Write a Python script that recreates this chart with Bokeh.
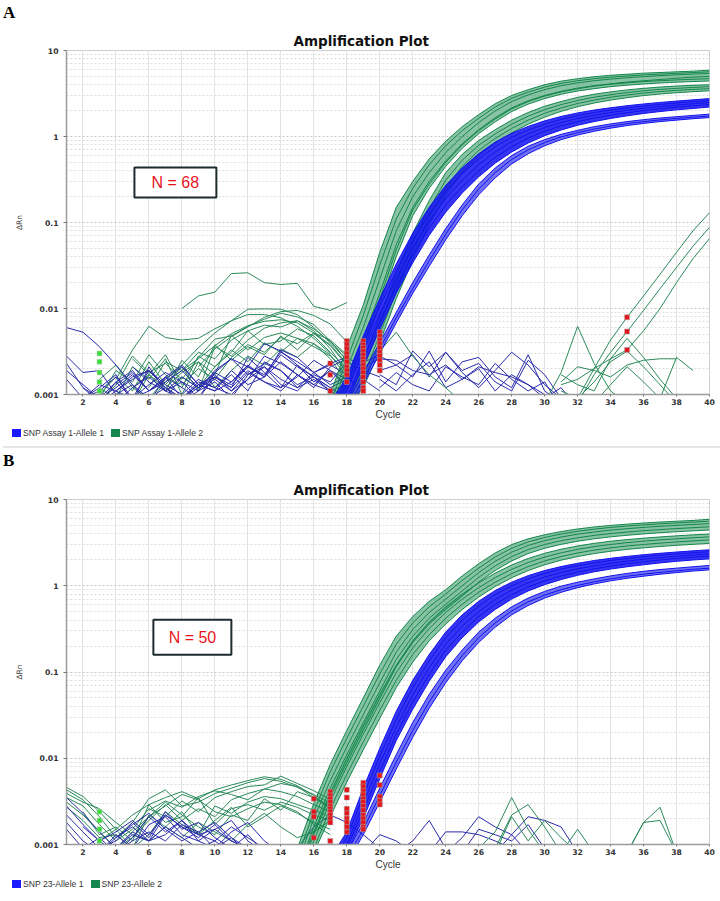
import numpy as np
from bokeh.plotting import figure
from bokeh.models import (Range1d, FixedTicker, CustomJSTickFormatter, Label, Title,
                          BoxAnnotation, Div)
from bokeh.layouts import column
from bokeh.embed import file_html
from bokeh.resources import INLINE

# ---------------------------------------------------------------- data
x_tick_values = list(range(2, 41, 2))
y_tick_values = [0.001, 0.01, 0.1, 1, 10]
plot_title = "Amplification Plot"
panel_letters = ["A", "B"]
n_labels = ["N = 68", "N = 50"]
legend_a = ["SNP Assay 1-Allele 1", "SNP Assay 1-Allele 2"]
legend_b = ["SNP 23-Allele 1", "SNP 23-Allele 2"]

# ----- Panel A amplification curves (delta Rn), cycles 16..40
amp_a_start = 16
a_green_top = [
    [0.0004, 0.001, 0.0035, 0.011, 0.045, 0.15, 0.30, 0.55, 0.88, 1.3, 1.8, 2.4, 3.0, 3.5, 4.0, 4.4, 4.7, 4.95, 5.15, 5.3, 5.45, 5.55, 5.65, 5.75, 5.9],
    [0.0003, 0.0008, 0.0025, 0.0083, 0.032, 0.11, 0.25, 0.47, 0.78, 1.17, 1.63, 2.2, 2.78, 3.28, 3.75, 4.15, 4.45, 4.7, 4.9, 5.06, 5.2, 5.32, 5.43, 5.54, 5.65],
    [0.0003, 0.0007, 0.002, 0.006, 0.022, 0.08, 0.2, 0.38, 0.65, 1.0, 1.45, 1.98, 2.55, 3.05, 3.5, 3.9, 4.2, 4.45, 4.65, 4.82, 4.97, 5.1, 5.22, 5.32, 5.4],
    [0.0002, 0.0006, 0.0015, 0.0045, 0.015, 0.055, 0.15, 0.3, 0.52, 0.82, 1.2, 1.65, 2.15, 2.6, 3.0, 3.35, 3.65, 3.9, 4.1, 4.3, 4.45, 4.6, 4.75, 4.9, 5.0],
    [0.0002, 0.0005, 0.0013, 0.004, 0.013, 0.048, 0.14, 0.28, 0.5, 0.8, 1.17, 1.6, 2.1, 2.55, 2.95, 3.3, 3.6, 3.85, 4.05, 4.2, 4.35, 4.45, 4.55, 4.63, 4.7],
    [0.0002, 0.0004, 0.0011, 0.0033, 0.011, 0.04, 0.12, 0.25, 0.45, 0.73, 1.08, 1.48, 1.95, 2.38, 2.76, 3.1, 3.38, 3.6, 3.8, 3.95, 4.08, 4.19, 4.28, 4.35, 4.42],
]
a_green_low = [
    [0.0002, 0.0003, 0.0008, 0.0025, 0.008, 0.026, 0.075, 0.18, 0.38, 0.62, 0.9, 1.2, 1.55, 1.9, 2.25, 2.55, 2.85, 3.1, 3.3, 3.48, 3.63, 3.76, 3.86, 3.94, 4.0],
    [0.0002, 0.0003, 0.0007, 0.002, 0.0062, 0.02, 0.058, 0.145, 0.31, 0.53, 0.79, 1.07, 1.39, 1.72, 2.05, 2.35, 2.62, 2.86, 3.06, 3.24, 3.4, 3.53, 3.63, 3.72, 3.8],
    [0.0002, 0.0003, 0.0006, 0.0016, 0.005, 0.016, 0.046, 0.117, 0.25, 0.45, 0.69, 0.95, 1.24, 1.55, 1.86, 2.15, 2.42, 2.65, 2.86, 3.04, 3.2, 3.33, 3.44, 3.53, 3.6],
    [0.0002, 0.0003, 0.0005, 0.0013, 0.004, 0.013, 0.037, 0.095, 0.205, 0.38, 0.6, 0.84, 1.1, 1.39, 1.68, 1.96, 2.22, 2.45, 2.65, 2.83, 2.99, 3.12, 3.23, 3.32, 3.4],
]
a_blue_main = [
    [0.0004, 0.0008, 0.0016, 0.0048, 0.013, 0.033, 0.075, 0.15, 0.27, 0.43, 0.63, 0.86, 1.09, 1.31, 1.52, 1.71, 1.88, 2.03, 2.16, 2.28, 2.39, 2.49, 2.58, 2.67, 2.76],
    [0.0003, 0.0007, 0.0013, 0.0039, 0.0105, 0.027, 0.062, 0.125, 0.23, 0.37, 0.55, 0.76, 0.98, 1.19, 1.39, 1.58, 1.75, 1.9, 2.03, 2.15, 2.26, 2.36, 2.45, 2.54, 2.62],
    [0.0003, 0.0006, 0.0011, 0.0032, 0.0086, 0.022, 0.051, 0.104, 0.19, 0.31, 0.47, 0.66, 0.87, 1.07, 1.27, 1.45, 1.62, 1.77, 1.9, 2.02, 2.13, 2.23, 2.32, 2.4, 2.48],
    [0.0003, 0.0005, 0.0009, 0.0026, 0.007, 0.018, 0.042, 0.086, 0.16, 0.26, 0.4, 0.57, 0.76, 0.96, 1.15, 1.33, 1.49, 1.64, 1.77, 1.89, 2.0, 2.1, 2.19, 2.27, 2.35],
    [0.0002, 0.0004, 0.0008, 0.0021, 0.0057, 0.015, 0.034, 0.071, 0.132, 0.22, 0.34, 0.49, 0.66, 0.84, 1.02, 1.19, 1.35, 1.49, 1.62, 1.74, 1.85, 1.95, 2.04, 2.12, 2.2],
]
a_blue_low = [
    [0.0003, 0.0005, 0.0008, 0.0018, 0.004, 0.009, 0.02, 0.042, 0.085, 0.16, 0.28, 0.43, 0.6, 0.77, 0.92, 1.06, 1.18, 1.3, 1.4, 1.49, 1.57, 1.64, 1.7, 1.76, 1.82],
    [0.0003, 0.0004, 0.0007, 0.0015, 0.0034, 0.0078, 0.017, 0.036, 0.073, 0.14, 0.245, 0.38, 0.54, 0.7, 0.85, 0.99, 1.11, 1.22, 1.32, 1.41, 1.49, 1.56, 1.62, 1.68, 1.73],
    [0.0002, 0.0004, 0.0006, 0.0013, 0.003, 0.0068, 0.015, 0.031, 0.063, 0.12, 0.21, 0.33, 0.48, 0.63, 0.78, 0.92, 1.04, 1.15, 1.25, 1.34, 1.42, 1.49, 1.55, 1.61, 1.66],
]
# late-rising allele-2 wells in panel A
a_late_start = [32, 32, 31]
a_late = [
    [0.0009, 0.002, 0.0043, 0.0079, 0.014, 0.025, 0.045, 0.08, 0.13],
    [0.0008, 0.0017, 0.0031, 0.0054, 0.0095, 0.017, 0.03, 0.053, 0.088],
    [0.0013, 0.0015, 0.002, 0.0026, 0.0033, 0.0055, 0.01, 0.02, 0.038, 0.065],
]
# baseline noise, panel A
a_noise_green_start = [8, 4, 5, 3, 3, 3, 3, 4, 5, 6, 7, 9, 6, 3]
a_noise_green = [
    [0.01, 0.014, 0.0155, 0.0255, 0.026, 0.02, 0.019, 0.0196, 0.0106, 0.0095, 0.0117],
    [0.0015, 0.0033, 0.0062, 0.0046, 0.0043, 0.0045, 0.0058, 0.0072, 0.0085, 0.0085, 0.0078, 0.0062, 0.0045, 0.003],
    [0.0012, 0.0009, 0.0015, 0.0022, 0.0035, 0.0052, 0.0072, 0.0098, 0.0099, 0.0098, 0.0085, 0.006, 0.004, 0.0025],
    [0.0008, 0.0013, 0.0028, 0.0018, 0.0023, 0.0015, 0.0027, 0.0044, 0.0048, 0.0062, 0.0075, 0.0088, 0.008, 0.0065, 0.0042, 0.0025],
    [0.001, 0.0016, 0.0011, 0.0024, 0.0013, 0.0021, 0.0011, 0.0036, 0.0028, 0.0043, 0.0059, 0.0068, 0.0072, 0.0055, 0.0034, 0.0018],
    [0.0012, 0.0009, 0.0021, 0.0015, 0.0026, 0.001, 0.0024, 0.0017, 0.0049, 0.0033, 0.0046, 0.0052, 0.0045, 0.0039, 0.0026, 0.0014],
    [0.0009, 0.0019, 0.0014, 0.0029, 0.0017, 0.0012, 0.0028, 0.0021, 0.0031, 0.0055, 0.0038, 0.0042, 0.0058, 0.0048, 0.0031, 0.002],
    [0.0011, 0.0008, 0.0017, 0.0011, 0.0025, 0.0016, 0.0038, 0.0025, 0.0036, 0.0029, 0.0048, 0.0033, 0.0051, 0.0037, 0.0022],
    [0.0026, 0.0017, 0.0012, 0.0018, 0.0024, 0.0012, 0.0019, 0.0028, 0.0022, 0.0034, 0.0027, 0.0039, 0.0029, 0.0016],
    [0.0008, 0.0014, 0.0019, 0.0026, 0.0037, 0.0051, 0.0063, 0.0071, 0.0074, 0.0068, 0.0052, 0.0038, 0.0023],
    [0.0009, 0.0016, 0.0012, 0.0021, 0.0033, 0.0024, 0.004, 0.0031, 0.0045, 0.0036, 0.0028, 0.0019],
    [0.0021, 0.0034, 0.0047, 0.0061, 0.0079, 0.0092, 0.0095, 0.0083, 0.0066, 0.0041],
    [0.0012, 0.0024, 0.0019, 0.0031, 0.0026, 0.0043, 0.0055, 0.0064, 0.0061, 0.0072, 0.0058, 0.0041, 0.0028],
    [0.0015, 0.0022, 0.0012, 0.0017, 0.0029, 0.0013, 0.002, 0.0015, 0.0027, 0.0038, 0.0031, 0.0046, 0.0039, 0.0052, 0.0043, 0.0029],
]
a_noise_blue_start = [1, 1, 1, 2, 3, 4, 1, 2, 2, 3, 1, 4, 5]
a_noise_blue = [
    [0.006, 0.0053, 0.0036, 0.0022, 0.0013, 0.0009, 0.0012, 0.0008, 0.0011, 0.0014, 0.0009, 0.0017, 0.0023, 0.0019, 0.0012, 0.0015, 0.0011, 0.0009],
    [0.0028, 0.0018, 0.0019, 0.001, 0.0013, 0.0008, 0.0016, 0.0012, 0.0009, 0.0018, 0.0026, 0.0021, 0.0039, 0.0032, 0.0022, 0.0014, 0.0019, 0.0012],
    [0.0023, 0.0012, 0.0008, 0.0014, 0.0009, 0.0011, 0.0016, 0.0009, 0.0013, 0.0011, 0.0019, 0.0013, 0.0016, 0.0024, 0.0017, 0.0012, 0.0021, 0.0026, 0.0015, 0.0011],
    [0.0009, 0.0012, 0.0017, 0.0008, 0.0021, 0.0011, 0.0014, 0.0009, 0.0016, 0.0012, 0.0027, 0.0018, 0.0012, 0.0016, 0.0025, 0.0019, 0.0013],
    [0.0008, 0.0011, 0.0015, 0.0019, 0.0012, 0.0009, 0.0013, 0.0011, 0.0014, 0.0021, 0.0016, 0.0033, 0.0027, 0.0018, 0.0023, 0.0027, 0.0021],
    [0.0011, 0.0009, 0.0019, 0.0013, 0.001, 0.0015, 0.0012, 0.0017, 0.0011, 0.0024, 0.0019, 0.0013, 0.0016, 0.0012, 0.0009],
    [0.0015, 0.0009, 0.0011, 0.0008, 0.0012, 0.0016, 0.0011, 0.0009, 0.0014, 0.0012, 0.001, 0.0015, 0.0021, 0.0013, 0.0011, 0.0017, 0.0014, 0.0024, 0.0019, 0.0016],
    [0.0009, 0.0013, 0.0011, 0.0016, 0.0019, 0.0012, 0.0009, 0.0012, 0.0015, 0.0011, 0.0018, 0.0014, 0.0012, 0.0022, 0.0016, 0.0011, 0.0013],
    [0.0012, 0.0009, 0.0014, 0.0019, 0.0011, 0.0016, 0.0022, 0.0013, 0.0017, 0.0011, 0.0015, 0.0028, 0.0023, 0.0017, 0.0013, 0.0011],
    [0.0011, 0.0016, 0.0009, 0.0013, 0.0018, 0.0014, 0.0011, 0.0019, 0.0026, 0.0017, 0.0021, 0.0015, 0.0012, 0.0018, 0.0022, 0.0017],
    [0.0019, 0.0013, 0.0009, 0.0012, 0.0017, 0.0011, 0.0014, 0.0019, 0.0012, 0.0016, 0.0013, 0.0021, 0.0017, 0.0031, 0.0024, 0.0018, 0.0013, 0.0016, 0.0011],
    [0.0013, 0.0018, 0.0011, 0.0015, 0.0021, 0.0013, 0.0016, 0.0012, 0.0019, 0.0014, 0.0011, 0.0017, 0.0013, 0.0019, 0.0015],
    [0.0021, 0.0014, 0.0011, 0.0016, 0.0012, 0.0018, 0.0014, 0.0022, 0.0016, 0.0029, 0.0021, 0.0016, 0.0012, 0.0015],
]
a_noise_blue_late_start = [19, 19, 20, 20, 20, 20]
a_noise_blue_late = [
    [0.0021, 0.0026, 0.0025, 0.0019, 0.0017, 0.0022, 0.0015, 0.0021, 0.0018, 0.0016, 0.0013, 0.001, 0.0008],
    [0.0024, 0.0028, 0.0022, 0.0029, 0.0016, 0.0031, 0.0019, 0.0023, 0.0014, 0.0011, 0.0025, 0.0017, 0.0009],
    [0.0017, 0.0013, 0.0032, 0.0021, 0.0031, 0.0018, 0.0012, 0.0019, 0.0031, 0.0022, 0.0013, 0.0009],
    [0.0019, 0.0022, 0.0016, 0.0032, 0.0014, 0.0024, 0.0027, 0.0016, 0.0012, 0.0029, 0.0011, 0.0008],
    [0.0012, 0.0018, 0.0013, 0.0011, 0.0021, 0.0016, 0.0013, 0.0023, 0.0015, 0.0011, 0.0014, 0.0007],
    [0.0015, 0.0011, 0.0017, 0.0024, 0.0012, 0.0015, 0.002, 0.0011, 0.0017, 0.0013, 0.0009, 0.0012, 0.0007],
]
a_noise_green_late_start = [19, 30, 31, 31, 33, 31]
a_noise_green_late = [
    [0.0012, 0.0032, 0.0053, 0.0028, 0.0017, 0.0012, 0.0008],
    [0.0008, 0.0018, 0.0062, 0.0023, 0.0011, 0.0008],
    [0.0017, 0.0013, 0.0011, 0.0026, 0.0045, 0.0027, 0.0015, 0.0009],
    [0.0014, 0.0021, 0.0019, 0.0016, 0.0022, 0.0025, 0.0026, 0.0026],
    [0.0008, 0.0013, 0.0021, 0.0014, 0.0009, 0.0027, 0.0019],
    [0.0011, 0.0009, 0.0014, 0.0024, 0.0032, 0.0021, 0.0013, 0.0008],
]
# threshold-cycle markers, panel A
a_ct_cycle = [17, 17, 17,
              18, 18, 18, 18, 18, 18, 18, 18, 18, 18,
              19, 19, 19, 19, 19, 19, 19, 19, 19, 19, 19, 19, 19, 19,
              20, 20, 20, 20, 20, 20, 20, 20, 20, 20,
              35, 35, 35]
a_ct_value = [0.0023, 0.0017, 0.0011,
              0.0042, 0.0038, 0.0034, 0.003, 0.0027, 0.0024, 0.0021, 0.0019, 0.0017, 0.0014,
              0.0042, 0.0038, 0.0035, 0.0032, 0.0029, 0.0026, 0.0024, 0.0022, 0.002, 0.0018, 0.0016, 0.0014, 0.0012, 0.0011,
              0.0053, 0.0048, 0.0043, 0.0039, 0.0035, 0.0031, 0.0028, 0.0025, 0.0022, 0.0019,
              0.0079, 0.0054, 0.0033]
a_base_cycle = [3, 3, 3, 3, 3]
a_base_value = [0.003, 0.0024, 0.0018, 0.0014, 0.0011]

# ----- Panel B amplification curves, cycles 15..40
amp_b_start = 15
b_green_top = [
    [0.0009, 0.003, 0.0085, 0.021, 0.05, 0.12, 0.26, 0.44, 0.66, 0.9, 1.3, 1.8, 2.4, 3.0, 3.5, 3.9, 4.25, 4.55, 4.8, 5.0, 5.18, 5.34, 5.48, 5.6, 5.72, 5.9],
    [0.0007, 0.0024, 0.007, 0.017, 0.04, 0.095, 0.21, 0.37, 0.57, 0.8, 1.15, 1.6, 2.15, 2.72, 3.22, 3.63, 3.98, 4.28, 4.53, 4.74, 4.92, 5.08, 5.22, 5.35, 5.47, 5.6],
    [0.0006, 0.002, 0.0055, 0.0135, 0.032, 0.075, 0.17, 0.31, 0.49, 0.7, 1.0, 1.42, 1.92, 2.45, 2.93, 3.33, 3.67, 3.96, 4.2, 4.41, 4.59, 4.75, 4.89, 5.02, 5.14, 5.26],
    [0.0005, 0.0016, 0.0045, 0.011, 0.026, 0.06, 0.14, 0.26, 0.42, 0.61, 0.87, 1.25, 1.7, 2.18, 2.63, 3.01, 3.33, 3.6, 3.83, 4.03, 4.2, 4.35, 4.48, 4.6, 4.71, 4.82],
    [0.0004, 0.0013, 0.0036, 0.0088, 0.021, 0.049, 0.115, 0.22, 0.36, 0.53, 0.76, 1.1, 1.5, 1.94, 2.36, 2.72, 3.02, 3.28, 3.5, 3.69, 3.85, 3.99, 4.12, 4.23, 4.33, 4.43],
]
b_green_low = [
    [0.0005, 0.0014, 0.004, 0.01, 0.024, 0.055, 0.12, 0.23, 0.38, 0.57, 0.8, 1.08, 1.4, 1.74, 2.07, 2.38, 2.65, 2.89, 3.1, 3.28, 3.43, 3.56, 3.68, 3.79, 3.89, 3.98],
    [0.0004, 0.0011, 0.0032, 0.008, 0.019, 0.044, 0.098, 0.19, 0.32, 0.49, 0.7, 0.95, 1.24, 1.55, 1.86, 2.15, 2.41, 2.64, 2.84, 3.01, 3.16, 3.29, 3.4, 3.5, 3.6, 3.69],
    [0.0003, 0.0009, 0.0026, 0.0065, 0.0155, 0.036, 0.08, 0.16, 0.27, 0.42, 0.61, 0.84, 1.1, 1.38, 1.67, 1.94, 2.18, 2.4, 2.59, 2.75, 2.89, 3.01, 3.12, 3.22, 3.31, 3.4],
    [0.0003, 0.0008, 0.0021, 0.0053, 0.0125, 0.029, 0.066, 0.13, 0.23, 0.36, 0.53, 0.74, 0.98, 1.24, 1.5, 1.75, 1.98, 2.18, 2.36, 2.51, 2.64, 2.75, 2.85, 2.94, 3.02, 3.1],
]
b_blue_main = [
    [0.0003, 0.0005, 0.0007, 0.0014, 0.0045, 0.013, 0.035, 0.08, 0.16, 0.29, 0.46, 0.66, 0.88, 1.1, 1.31, 1.5, 1.67, 1.82, 1.96, 2.08, 2.19, 2.29, 2.38, 2.46, 2.54, 2.61],
    [0.0003, 0.0004, 0.0006, 0.0012, 0.0037, 0.0105, 0.028, 0.066, 0.135, 0.25, 0.4, 0.58, 0.79, 1.0, 1.2, 1.39, 1.56, 1.71, 1.84, 1.96, 2.07, 2.17, 2.26, 2.34, 2.41, 2.48],
    [0.0002, 0.0004, 0.0006, 0.001, 0.003, 0.0086, 0.023, 0.054, 0.112, 0.21, 0.34, 0.5, 0.69, 0.89, 1.08, 1.26, 1.42, 1.57, 1.7, 1.82, 1.93, 2.03, 2.12, 2.2, 2.27, 2.34],
    [0.0002, 0.0003, 0.0005, 0.0009, 0.0025, 0.007, 0.019, 0.045, 0.094, 0.18, 0.29, 0.44, 0.61, 0.79, 0.97, 1.14, 1.3, 1.44, 1.57, 1.69, 1.8, 1.9, 1.99, 2.07, 2.14, 2.21],
    [0.0002, 0.0003, 0.0005, 0.0008, 0.002, 0.0058, 0.016, 0.037, 0.078, 0.15, 0.25, 0.38, 0.53, 0.7, 0.87, 1.03, 1.18, 1.32, 1.45, 1.56, 1.66, 1.75, 1.84, 1.92, 1.99, 2.05],
]
b_blue_low = [
    [0.0002, 0.0003, 0.0005, 0.0008, 0.0018, 0.0045, 0.011, 0.026, 0.055, 0.105, 0.18, 0.29, 0.42, 0.57, 0.72, 0.86, 0.99, 1.1, 1.2, 1.3, 1.39, 1.47, 1.54, 1.6, 1.66, 1.72],
    [0.0002, 0.0003, 0.0004, 0.0007, 0.0015, 0.0037, 0.009, 0.021, 0.045, 0.088, 0.155, 0.25, 0.37, 0.51, 0.65, 0.78, 0.9, 1.01, 1.11, 1.2, 1.29, 1.36, 1.43, 1.49, 1.55, 1.6],
    [0.0002, 0.0003, 0.0004, 0.0006, 0.0013, 0.0031, 0.0075, 0.0175, 0.038, 0.075, 0.135, 0.22, 0.33, 0.46, 0.59, 0.72, 0.84, 0.95, 1.05, 1.14, 1.22, 1.29, 1.36, 1.42, 1.48, 1.53],
]
b_noise_green_start = [1, 1, 1, 1, 2, 3, 4, 1, 5, 1, 6]
b_noise_green = [
    [0.0043, 0.0033, 0.0021, 0.0012, 0.0018, 0.0034, 0.0043, 0.0028, 0.0031, 0.0039, 0.0045, 0.0052, 0.0058, 0.0054, 0.0046, 0.0038, 0.003],
    [0.0035, 0.0028, 0.0017, 0.0011, 0.0015, 0.0026, 0.0021, 0.0032, 0.0024, 0.0035, 0.0041, 0.0047, 0.0049, 0.0062, 0.0051, 0.0042, 0.0033],
    [0.0031, 0.0022, 0.0014, 0.0009, 0.0012, 0.0019, 0.0029, 0.0019, 0.0026, 0.0021, 0.0033, 0.0039, 0.0044, 0.0041, 0.0036, 0.0029, 0.0024],
    [0.0027, 0.0019, 0.0012, 0.0013, 0.0009, 0.0022, 0.0016, 0.0024, 0.0013, 0.0028, 0.0023, 0.0031, 0.0036, 0.0034, 0.0029, 0.0025, 0.0021],
    [0.0024, 0.0013, 0.0016, 0.0011, 0.0029, 0.0018, 0.0021, 0.0035, 0.0017, 0.0026, 0.0029, 0.0025, 0.0031, 0.0027, 0.0022, 0.0019],
    [0.0011, 0.0015, 0.0009, 0.0013, 0.0024, 0.0017, 0.0013, 0.0019, 0.0027, 0.0016, 0.0021, 0.0028, 0.0023, 0.0018, 0.0015],
    [0.0009, 0.0014, 0.0021, 0.0031, 0.0022, 0.0016, 0.0013, 0.0022, 0.0019, 0.0034, 0.0025, 0.0041, 0.0035, 0.0026],
    [0.0039, 0.0031, 0.0026, 0.0018, 0.0013, 0.0011, 0.0016, 0.0012, 0.0018, 0.0014, 0.0011, 0.0017, 0.0023, 0.0016, 0.0012, 0.0014, 0.0019],
    [0.0012, 0.0021, 0.0028, 0.0038, 0.0033, 0.0024, 0.0021, 0.0026, 0.0031, 0.0029, 0.0024, 0.0017, 0.0013],
    [0.0046, 0.0036, 0.0024, 0.0015, 0.0022, 0.0029, 0.0035, 0.0041, 0.0034, 0.0043, 0.0049, 0.0055, 0.0061, 0.0057, 0.0048, 0.0037, 0.0026],
    [0.0025, 0.0032, 0.0027, 0.0036, 0.0042, 0.0038, 0.0033, 0.0044, 0.0051, 0.0047, 0.0035, 0.0028],
]
b_noise_blue_start = [1, 1, 1, 1, 1, 3, 15, 4, 2, 4]
b_noise_blue = [
    [0.0035, 0.0023, 0.0014, 0.0009, 0.0013, 0.0011, 0.0016, 0.0012, 0.0009, 0.0011, 0.0008],
    [0.0028, 0.0017, 0.0011, 0.0008, 0.0012, 0.0021, 0.0014, 0.0019, 0.0011, 0.0009, 0.0014, 0.0018, 0.0011, 0.0008],
    [0.0022, 0.0014, 0.0009, 0.0011, 0.0018, 0.0012, 0.0024, 0.0015, 0.0018, 0.0012, 0.0009, 0.0013, 0.0008],
    [0.0018, 0.0011, 0.0008, 0.0013, 0.0009, 0.0017, 0.0021, 0.0013, 0.0011, 0.0015, 0.0019, 0.0011, 0.0008],
    [0.0015, 0.0009, 0.0012, 0.0008, 0.0011, 0.0014, 0.0011, 0.0017, 0.0014, 0.0009, 0.0012, 0.0008],
    [0.0008, 0.0012, 0.0016, 0.0011, 0.0013, 0.0019, 0.0013, 0.0011, 0.0016, 0.0012, 0.0009],
    [0.0009, 0.0016, 0.0022, 0.0018, 0.0013, 0.0009],
    [0.0009, 0.0014, 0.0011, 0.0022, 0.0016, 0.0013, 0.0015, 0.0011, 0.0009],
    [0.0016, 0.0011, 0.0014, 0.0019, 0.0013, 0.0022, 0.0016, 0.0012, 0.0017, 0.0011, 0.0009],
    [0.0012, 0.0017, 0.0023, 0.0015, 0.0011, 0.0014, 0.0018, 0.0012, 0.0009],
]
b_noise_blue_late_start = [19, 21, 23, 24, 27, 25]
b_noise_blue_late = [
    [0.0008, 0.0013, 0.0011, 0.0008],
    [0.0008, 0.0011, 0.0019, 0.0009],
    [0.0008, 0.0014, 0.0014, 0.0013, 0.0011, 0.0009],
    [0.0008, 0.0012, 0.0021, 0.0016, 0.0013, 0.0008],
    [0.0008, 0.0013, 0.0021, 0.0019, 0.0016, 0.0008],
    [0.0008, 0.0015, 0.0013, 0.0011, 0.0017, 0.0009],
]
b_noise_green_late_start = [26, 27, 27, 31, 35, 35]
b_noise_green_late = [
    [0.0009, 0.0014, 0.0035, 0.0015, 0.0008],
    [0.0009, 0.0022, 0.0029, 0.0016, 0.0008],
    [0.0008, 0.0021, 0.0011, 0.0019, 0.0012, 0.0008],
    [0.0008, 0.0015, 0.0008],
    [0.0008, 0.0018, 0.0027, 0.0008],
    [0.0008, 0.0018, 0.0019, 0.0008],
]
b_ct_cycle = [16, 16, 16, 16,
              17, 17, 17, 17, 17, 17, 17, 17, 17, 17, 17,
              18, 18, 18, 18, 18, 18, 18, 18,
              19, 19, 19, 19, 19, 19, 19, 19, 19, 19, 19, 19, 19,
              20, 20, 20, 20, 20]
b_ct_value = [0.0034, 0.0024, 0.0021, 0.0012,
              0.0041, 0.0037, 0.0034, 0.0031, 0.0028, 0.0026, 0.0024, 0.0022, 0.002, 0.0018, 0.0011,
              0.0043, 0.0035, 0.0026, 0.0023, 0.002, 0.0018, 0.0016, 0.0014,
              0.0052, 0.0047, 0.0042, 0.0038, 0.0034, 0.0031, 0.0028, 0.0025, 0.0022, 0.002, 0.0018, 0.0016, 0.0015,
              0.0063, 0.0049, 0.0036, 0.0032, 0.0029]
b_base_cycle = [3, 3, 3, 3]
b_base_value = [0.0024, 0.0019, 0.0015, 0.0011]

# ---------------------------------------------------------------- style
BLUE = "#1212ee"
BLUE_NOISE = "#2b2bab"
GREEN = "#13874b"
GREEN_NOISE = "#2a8a5a"
LEG_BLUE = "#1a1aff"
LEG_GREEN = "#13874d"
FL = 66  # frame left (px)


def add_lines(p, starts, series, color, width=1.0, alpha=1.0):
    xs = [list(range(s, s + len(v))) for s, v in zip(starts, series)]
    p.multi_line(xs=xs, ys=[list(v) for v in series], line_color=color,
                 line_width=width, line_alpha=alpha)


def add_bundle(p, start, curves, color, fill_alpha):
    arr = np.array(curves, dtype=float)
    x = list(range(start, start + arr.shape[1]))
    p.varea(x=x, y1=list(arr.min(axis=0)), y2=list(arr.max(axis=0)),
            fill_color=color, fill_alpha=fill_alpha)
    add_lines(p, [start] * len(curves), curves, color, width=1.0)


def make_panel(height, ftop, fbot, n_text, box, n_xy, d):
    p = figure(width=720, height=height, y_axis_type="log",
               x_range=Range1d(1, 40), y_range=Range1d(0.001, 10),
               output_backend="svg", toolbar_location=None,
               min_border_left=FL, min_border_right=11,
               min_border_top=ftop, min_border_bottom=fbot)
    p.margin = 0
    p.background_fill_color = "white"
    p.border_fill_color = "white"
    p.outline_line_color = "#cfcfcf"

    p.title = Title(text=plot_title, align="left", offset=293 - FL, standoff=3,
                    text_font="DejaVu Sans", text_font_style="bold",
                    text_font_size="13.5px", text_color="#111111")

    p.xaxis.ticker = FixedTicker(ticks=x_tick_values)
    minor = [m * dec for dec in y_tick_values[:-1] for m in range(2, 10)]
    p.yaxis.ticker = FixedTicker(ticks=y_tick_values, minor_ticks=minor)
    p.yaxis.formatter = CustomJSTickFormatter(code="return tick.toString()")

    p.xgrid.grid_line_color = "#e3e3e3"
    p.ygrid.grid_line_color = "#c4c4c4"
    p.ygrid.grid_line_dash = "2 2"
    p.ygrid.minor_grid_line_color = "#dddddd"
    p.ygrid.minor_grid_line_dash = "2 2"

    for ax in (p.xaxis[0], p.yaxis[0]):
        ax.axis_line_color = "#9c9c9c"
        ax.axis_line_width = 1.5
        ax.major_tick_line_color = "#777777"
        ax.minor_tick_line_color = None
        ax.major_tick_in = 0
        ax.major_label_text_font = "DejaVu Sans"
        ax.major_label_text_font_style = "bold"
        ax.major_label_text_font_size = "7.7px"
        ax.major_label_text_color = "#333333"
        ax.axis_label_text_font_style = "normal"
        ax.axis_label_text_color = "#333333"
    p.xaxis.major_tick_out = 2
    p.xaxis.major_label_standoff = 2
    p.xaxis.axis_label = "Cycle"
    p.xaxis.axis_label_text_font = "Liberation Sans"
    p.xaxis.axis_label_text_font_size = "10px"
    p.xaxis.axis_label_standoff = 1
    p.yaxis.major_tick_out = 3
    p.yaxis.major_label_standoff = 4
    p.yaxis.axis_label = "ΔRn"
    p.yaxis.axis_label_text_font = "DejaVu Sans"
    p.yaxis.axis_label_text_font_size = "7.5px"
    p.yaxis.axis_label_standoff = 7

    # baseline noise
    add_lines(p, d["ng_start"], d["ng"], GREEN_NOISE)
    add_lines(p, d["nb_start"], d["nb"], BLUE_NOISE)
    add_lines(p, d["nbl_start"], d["nbl"], BLUE_NOISE)
    add_lines(p, d["ngl_start"], d["ngl"], GREEN_NOISE)
    if d.get("late"):
        add_lines(p, d["late_start"], d["late"], GREEN_NOISE)
    # amplification bundles
    add_bundle(p, d["start"], d["g_top"], GREEN, 0.5)
    add_bundle(p, d["start"], d["g_low"], GREEN, 0.5)
    add_bundle(p, d["start"], d["b_main"], BLUE, 0.85)
    add_bundle(p, d["start"], d["b_low"], BLUE, 0.6)
    # markers
    p.scatter(x=d["base_x"], y=d["base_y"], marker="square", size=5,
              fill_color="#3ddc3d", line_color="#d0d0d0", line_width=0.5)
    p.scatter(x=d["ct_x"], y=d["ct_y"], marker="square", size=5,
              fill_color="#e3161b", line_color="#a8a8a8", line_width=0.5)

    # N box
    p.add_layout(BoxAnnotation(left=box[0], right=box[1], bottom=box[2], top=box[3],
                               fill_color="white", fill_alpha=1.0,
                               line_color="#1d2a2e", line_alpha=1.0, line_width=2,
                               level="overlay"))
    p.add_layout(Label(x=n_xy[0], y=n_xy[1], text=n_text, text_align="center",
                       text_baseline="middle", text_color="#e8141c",
                       text_font="Liberation Sans", text_font_size="16px", level="overlay"))
    return p


def letter_div(letter):
    html = ('<div style="font-family:\'Liberation Serif\';font-weight:bold;'
            'font-size:17px;line-height:26px;margin-left:3px;color:#000">%s</div>' % letter)
    return Div(text=html, width=720, height=26, margin=0)


def legend_div(labels, top, height):
    sq = ('<span style="display:inline-block;width:9px;height:8px;background:%s;'
          'margin-left:%dpx;margin-right:2px"></span>')
    html = ('<div style="display:flex;align-items:center;height:10px;margin-top:%dpx;'
            'font-family:\'Liberation Sans\';font-size:8.6px;color:#333;white-space:nowrap">'
            % top
            + sq % (LEG_BLUE, 12) + '<span>%s</span>' % labels[0]
            + sq % (LEG_GREEN, 7) + '<span>%s</span>' % labels[1]
            + '</div>')
    return Div(text=html, width=720, height=height, margin=0)


data_a = dict(start=amp_a_start, g_top=a_green_top, g_low=a_green_low,
              b_main=a_blue_main, b_low=a_blue_low,
              ng_start=a_noise_green_start, ng=a_noise_green,
              nb_start=a_noise_blue_start, nb=a_noise_blue,
              nbl_start=a_noise_blue_late_start, nbl=a_noise_blue_late,
              ngl_start=a_noise_green_late_start, ngl=a_noise_green_late,
              late_start=a_late_start, late=a_late,
              ct_x=a_ct_cycle, ct_y=a_ct_value, base_x=a_base_cycle, base_y=a_base_value)
data_b = dict(start=amp_b_start, g_top=b_green_top, g_low=b_green_low,
              b_main=b_blue_main, b_low=b_blue_low,
              ng_start=b_noise_green_start, ng=b_noise_green,
              nb_start=b_noise_blue_start, nb=b_noise_blue,
              nbl_start=b_noise_blue_late_start, nbl=b_noise_blue_late,
              ngl_start=b_noise_green_late_start, ngl=b_noise_green_late,
              ct_x=b_ct_cycle, ct_y=b_ct_value, base_x=b_base_cycle, base_y=b_base_value)

pa = make_panel(398, 24, 30, n_labels[0], (5.12, 10.09, 0.195, 0.436), (7.6, 0.29), data_a)
pb = make_panel(400, 25, 30, n_labels[1], (6.27, 11.0, 0.159, 0.403), (8.64, 0.25), data_b)
sep = Div(text="", width=717, height=2, margin=(0, 0, 0, 3),
          styles={"background-color": "#e6e6e6"})

layout = column(
    letter_div(panel_letters[0]), pa,
    legend_div(legend_a, 4, 22),
    sep,
    letter_div(panel_letters[1]), pb,
    legend_div(legend_b, 5, 27),
    spacing=0, margin=0)
open("out.html", "w").write(file_html(layout, INLINE))
